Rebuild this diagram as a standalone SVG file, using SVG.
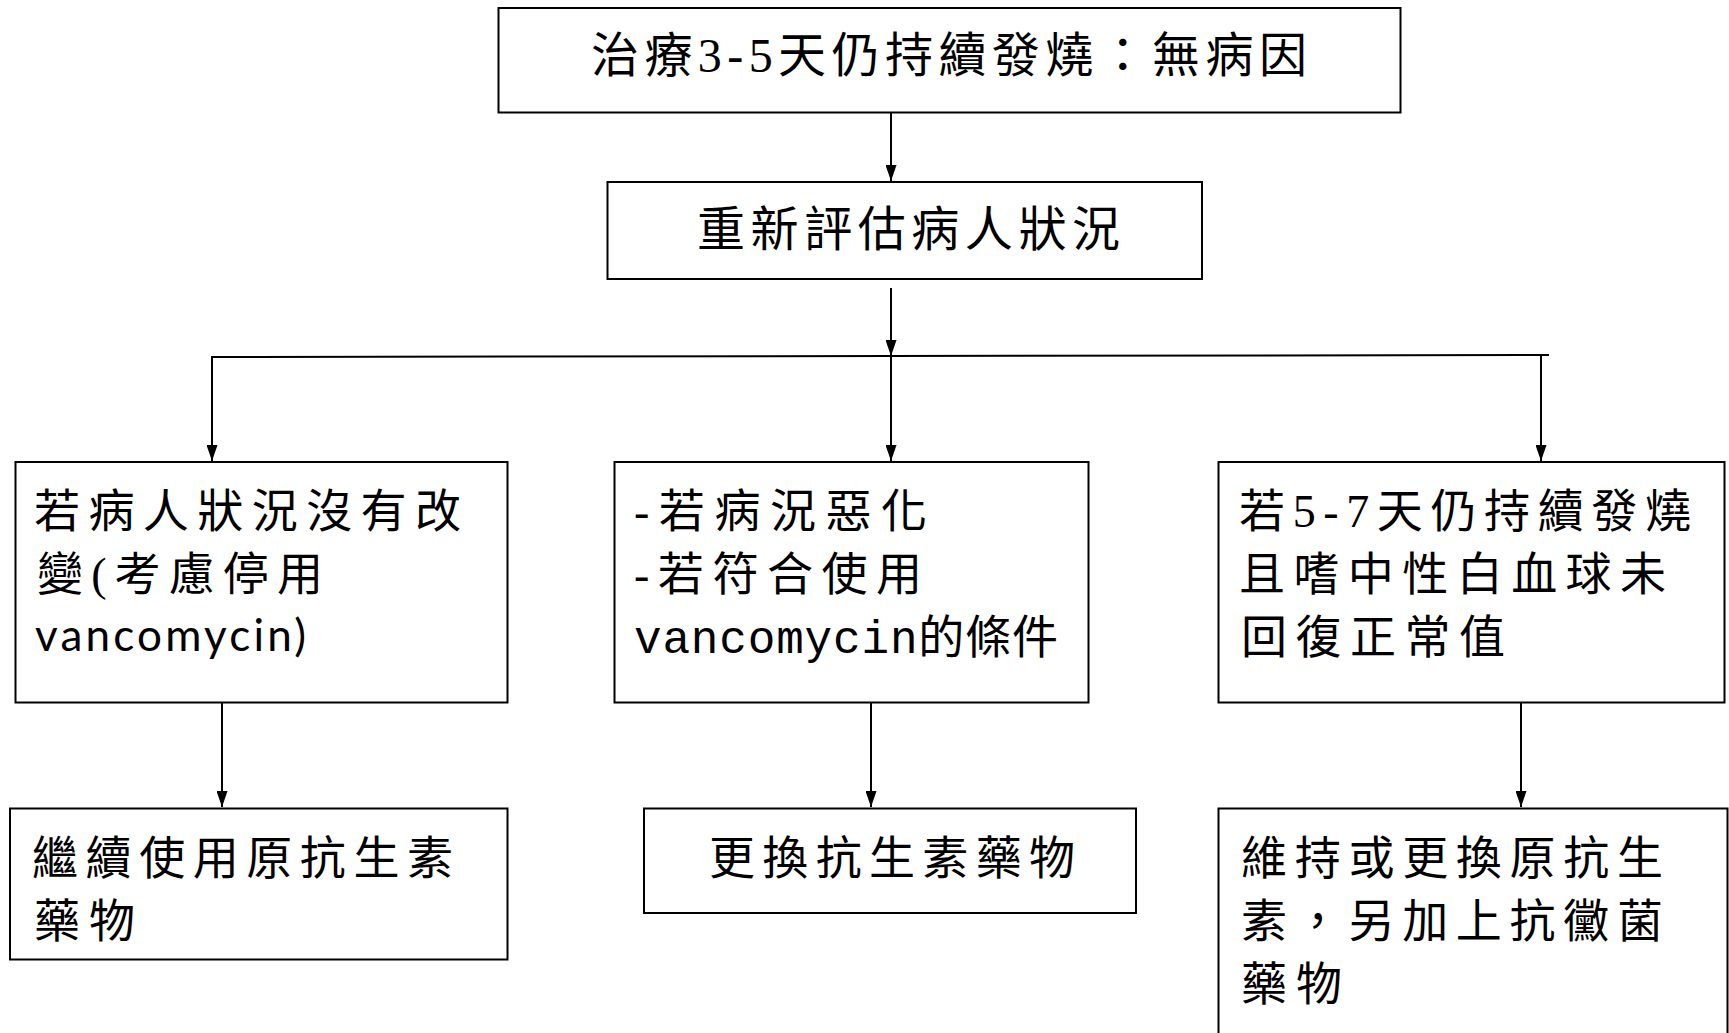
<svg xmlns="http://www.w3.org/2000/svg" width="1729" height="1033" viewBox="0 0 1729 1033">
<style>
.box{fill:#fff;stroke:#000;stroke-width:2}
.t{font-family:"Liberation Serif","Noto Sans CJK TC",serif;font-size:46px;fill:#000}
.big{font-size:48px}
.lat{font-family:"Lato","Liberation Sans",sans-serif;font-size:44px}
.mono{font-family:"Liberation Mono","Noto Sans CJK TC",monospace}
.c{stroke:#000;stroke-width:2;fill:none}
</style>
<defs>
<marker id="ah" markerUnits="userSpaceOnUse" markerWidth="16" markerHeight="11" refX="16" refY="5.5" orient="auto" viewBox="0 0 16 11">
<path d="M0,0 L16,5.5 L0,11 z" fill="#000"/>
</marker>
</defs>
<rect width="1729" height="1033" fill="#fff"/>
<g id="connectors">
<line class="c" x1="891" y1="112" x2="891" y2="181" marker-end="url(#ah)"/>
<line class="c" x1="891" y1="288" x2="891" y2="356" marker-end="url(#ah)"/>
<line class="c" x1="211" y1="357" x2="1549" y2="355" stroke-width="2.5"/>
<line class="c" x1="212" y1="357" x2="212" y2="461" marker-end="url(#ah)"/>
<line class="c" x1="891" y1="356" x2="891" y2="461" marker-end="url(#ah)"/>
<line class="c" x1="1541" y1="356" x2="1541" y2="461" marker-end="url(#ah)"/>
<line class="c" x1="222" y1="703" x2="222" y2="807" marker-end="url(#ah)"/>
<line class="c" x1="871" y1="703" x2="871" y2="807" marker-end="url(#ah)"/>
<line class="c" x1="1521" y1="703" x2="1521" y2="807" marker-end="url(#ah)"/>
</g>
<g id="n1">
<rect class="box" x="498.5" y="8" width="902" height="104.5"/>
<text class="t big" x="591" y="72" textLength="716" lengthAdjust="spacing">治療3-5天仍持續發燒：無病因</text>
</g>
<g id="n2">
<rect class="box" x="607.5" y="182" width="594.5" height="97"/>
<text class="t big" x="697" y="246" textLength="423" lengthAdjust="spacing">重新評估病人狀況</text>
</g>
<g id="n3">
<rect class="box" x="15.5" y="462" width="492" height="240.5"/>
<text class="t" x="34" y="527" textLength="427" lengthAdjust="spacing">若病人狀況沒有改</text>
<text class="t" x="37" y="590" textLength="286" lengthAdjust="spacing">變(考慮停用</text>
<text class="t lat" x="35" y="651" textLength="271" lengthAdjust="spacing">vancomycin)</text>
</g>
<g id="n4">
<rect class="box" x="614.5" y="462" width="474" height="240.5"/>
<text class="t" x="634" y="527" textLength="293" lengthAdjust="spacing">-若病況惡化</text>
<text class="t" x="634" y="590" textLength="288" lengthAdjust="spacing">-若符合使用</text>
<text class="t mono" x="634" y="653" textLength="424" lengthAdjust="spacing">vancomycin的條件</text>
</g>
<g id="n5">
<rect class="box" x="1218.5" y="462" width="506" height="240.5"/>
<text class="t" x="1239" y="527" textLength="452" lengthAdjust="spacing">若5-7天仍持續發燒</text>
<text class="t" x="1239" y="590" textLength="427" lengthAdjust="spacing">且嗜中性白血球未</text>
<text class="t" x="1241" y="653" textLength="264" lengthAdjust="spacing">回復正常值</text>
</g>
<g id="n6">
<rect class="box" x="10" y="808.5" width="497.5" height="151"/>
<text class="t" x="32" y="874" textLength="421" lengthAdjust="spacing">繼續使用原抗生素</text>
<text class="t" x="34" y="937" textLength="101" lengthAdjust="spacing">藥物</text>
</g>
<g id="n7">
<rect class="box" x="644" y="808.5" width="492" height="104.5"/>
<text class="t" x="709" y="874" textLength="366" lengthAdjust="spacing">更換抗生素藥物</text>
</g>
<g id="n8">
<rect class="box" x="1218.5" y="808.5" width="509" height="240"/>
<text class="t" x="1241" y="874" textLength="422" lengthAdjust="spacing">維持或更換原抗生</text>
<text class="t" x="1241" y="937" textLength="422" lengthAdjust="spacing">素，另加上抗黴菌</text>
<text class="t" x="1241" y="1000" textLength="101" lengthAdjust="spacing">藥物</text>
</g>
</svg>
